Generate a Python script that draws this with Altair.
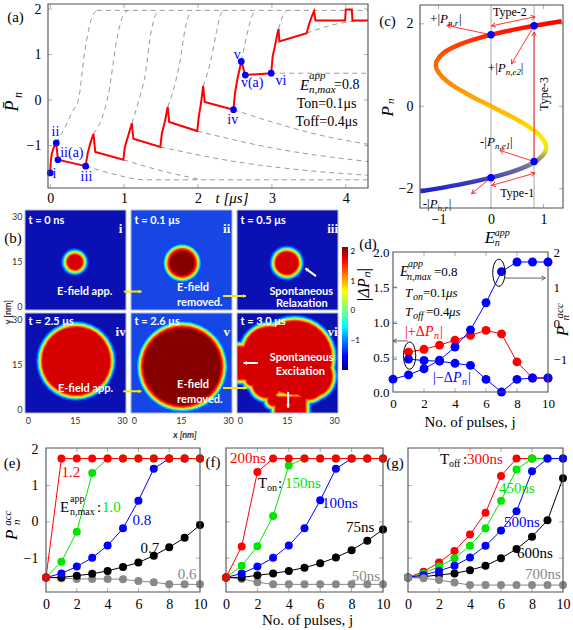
import math
import altair as alt
import pandas as pd

W, H = 573, 630
SERIF = "Liberation Serif"
SANS = "Lato"
FRAME = "#505050"
RED, BLUE, GREEN, GRAY, BLACK = "#ff0000", "#0000ff", "#00e600", "#888888", "#000000"

# ---------------- (a) polarization trace under the pulse train ----------------
a_t = [0.0, 0.005, 0.02, 0.05, 0.082, 0.104, 0.48,
       0.505, 0.54, 0.57, 0.585, 0.61, 0.99,
       1.01, 1.05, 1.09, 1.105, 1.125, 1.49,
       1.51, 1.55, 1.59, 1.61, 1.99,
       2.01, 2.04, 2.07, 2.09, 2.48,
       2.50, 2.53, 2.56, 2.585, 2.64, 2.99,
       3.01, 3.04, 3.075, 3.09, 3.10, 3.47,
       3.50, 3.54, 3.57, 3.59, 3.99,
       4.00, 4.08, 4.09, 4.30]
a_p = [-1.60, -1.40, -1.18, -1.03, -0.94, -1.31, -1.45,
       -1.18, -0.96, -0.81, -0.74, -1.14, -1.31,
       -1.03, -0.81, -0.59, -0.51, -0.85, -1.03,
       -0.74, -0.48, -0.15, -0.48, -0.68,
       -0.37, -0.07, 0.31, -0.04, -0.21,
       0.15, 0.44, 0.66, 0.85, 0.55, 0.59,
       0.96, 1.18, 1.47, 1.56, 1.29, 1.47,
       1.65, 1.84, 1.95, 1.75, 1.75,
       1.99, 1.99, 1.75, 1.75]
a_state = ["i", "ii", "ii(a)", "iii", "iv", "v", "v(a)", "vi"]
a_state_t = [0.0, 0.082, 0.104, 0.48, 2.48, 2.585, 2.64, 2.99]
a_state_p = [-1.60, -0.94, -1.31, -1.45, -0.21, 0.85, 0.55, 0.59]
# field left on after each pulse
a_rise = [
    [(0.082, -0.94), (0.2, -0.6), (0.3, -0.25), (0.38, 0.0), (0.47, 1.1), (0.56, 1.8), (0.63, 1.97)],
    [(0.585, -0.74), (0.7, -0.4), (0.79, 0.15), (0.9, 1.32), (0.99, 1.87), (1.06, 1.97)],
    [(1.105, -0.51), (1.2, 0.0), (1.28, 0.51), (1.37, 1.54), (1.42, 1.85), (1.47, 1.97)],
    [(1.59, -0.15), (1.68, 0.3), (1.75, 0.8), (1.83, 1.6), (1.88, 1.88), (1.92, 1.97)],
    [(2.07, 0.31), (2.17, 0.85), (2.25, 1.5), (2.3, 1.85), (2.35, 1.97)],
    [(2.585, 0.85), (2.65, 1.35), (2.72, 1.8), (2.77, 1.97)],
    [(3.09, 1.56), (3.15, 1.85), (3.2, 1.97)],
    [(0.63, 1.97), (4.3, 1.97)],
]
# field left off after each pulse
a_relax = [
    [(0.48, -1.45), (0.8, -1.6), (1.3, -1.75), (4.3, -1.75)],
    [(0.99, -1.31), (1.5, -1.55), (2.05, -1.75)],
    [(1.49, -1.03), (2.5, -1.35), (3.5, -1.55), (4.3, -1.65)],
    [(1.99, -0.68), (3.0, -1.05), (4.3, -1.35)],
    [(2.48, -0.21), (3.0, -0.48), (3.6, -0.75), (4.3, -0.97)],
    [(2.99, 0.59), (4.3, 0.59)],
    [(3.47, 1.47), (3.9, 1.68), (4.3, 1.75)],
]

# ---------------- (c) S-shaped P-E branch ----------------
c_p = [-2.06, -1.9, -1.7, -1.5, -1.3, -1.1, -1.0, -0.9, -0.7, -0.5, -0.25, 0.0,
       0.25, 0.5, 0.7, 0.9, 1.0, 1.1, 1.3, 1.5, 1.7, 1.9, 2.06]
c_e = [-1.345, -0.609, 0.098, 0.591, 0.894, 1.034, 1.05, 1.035, 0.922, 0.722, 0.386, 0.0,
       -0.386, -0.722, -0.922, -1.035, -1.05, -1.034, -0.894, -0.591, -0.098, 0.609, 1.345]
c_state_e = [0.0, 0.82, 0.0, 0.82]
c_state_p = [1.732, 1.95, -1.732, -1.34]

# ---------------- (d) per-pulse changes and accumulated polarization ----------------
d_j = list(range(11))
d_acc = [-1.56, -1.44, -1.27, -1.03, -0.66, -0.18, 0.58, 1.45, 1.72, 1.72, 1.72]
d_jd = list(range(1, 11))
d_plus = [0.57, 0.61, 0.67, 0.74, 0.81, 0.88, 0.83, 0.43, 0.20, 0.20]
d_minus = [0.47, 0.45, 0.44, 0.41, 0.38, 0.18, 0.0, 0.18, 0.20, 0.20]

# ---------------- (e) amplitude sweep ----------------
e_12 = [-1.53, 1.74, 1.74, 1.74, 1.74, 1.74, 1.74, 1.74, 1.74, 1.74, 1.74]
e_10 = [-1.53, -1.10, -0.27, 1.34, 1.74, 1.74, 1.74, 1.74, 1.74, 1.74, 1.74]
e_08 = [-1.53, -1.42, -1.23, -0.99, -0.65, -0.18, 0.58, 1.46, 1.74, 1.74, 1.74]
e_07 = [-1.53, -1.53, -1.48, -1.43, -1.35, -1.24, -1.12, -0.93, -0.70, -0.44, -0.09]
e_06 = [-1.53, -1.55, -1.57, -1.57, -1.57, -1.58, -1.63, -1.66, -1.72, -1.72, -1.72]
# ---------------- (f) on-time sweep ----------------
f_200 = [-1.53, -0.68, 1.37, 1.74, 1.74, 1.74, 1.74, 1.74, 1.74, 1.74, 1.74]
f_150 = [-1.53, -1.21, -0.67, 0.16, 1.55, 1.74, 1.74, 1.74, 1.74, 1.74, 1.74]
f_100 = [-1.53, -1.42, -1.23, -0.99, -0.65, -0.18, 0.59, 1.46, 1.74, 1.74, 1.74]
f_75 = [-1.53, -1.53, -1.47, -1.42, -1.35, -1.26, -1.14, -0.98, -0.78, -0.52, -0.21]
f_50 = [-1.53, -1.57, -1.66, -1.72, -1.72, -1.72, -1.72, -1.72, -1.72, -1.72, -1.72]
# ---------------- (g) off-time sweep ----------------
g_300 = [-1.53, -1.37, -1.12, -0.80, -0.35, 0.25, 1.26, 1.74, 1.74, 1.74, 1.74]
g_450 = [-1.53, -1.42, -1.23, -1.00, -0.66, -0.18, 0.58, 1.44, 1.74, 1.74, 1.74]
g_500 = [-1.53, -1.46, -1.35, -1.21, -0.98, -0.66, -0.24, 0.29, 1.39, 1.74, 1.74]
g_600 = [-1.53, -1.51, -1.46, -1.42, -1.33, -1.21, -1.00, -0.75, -0.41, 0.04, 1.20]
g_700 = [-1.53, -1.55, -1.60, -1.67, -1.74, -1.74, -1.74, -1.74, -1.74, -1.74, -1.74]

# ---------------- (b) domain snapshots (nm) ----------------
img_time = ["t = 0 ns", "t = 0.1 μs", "t = 0.5 μs", "t = 2.5 μs", "t = 2.6 μs", "t = 3.0 μs"]
img_tag = ["i", "ii", "iii", "iv", "v", "vi"]
img_field_on = [False, True, False, False, True, False]
img_cx = [15.0, 15.4, 15.0, 15.4, 15.4]
img_cy = [14.8, 14.5, 14.5, 16.2, 14.3]
img_r = [3.5, 5.5, 4.7, 12.1, 14.1]
vi_cx = [17.5, 9.5, 8.6, 22.0, 23.0, 4.0, 10.7]
vi_cy = [17.3, 19.0, 8.6, 8.0, 11.0, 10.0, 3.0]
vi_r = [13.0, 9.4, 5.6, 5.5, 7.5, 3.0, 2.7]
vi_rects = [(-0.9, 9.0, 9.0, 22.0), (10.4, -1.3, 21.9, 5.0)]

# =====================================================================
OPEN_HEAD = "M -0.55 1 L 0 0 L 0.55 1"
SOLID_HEAD = "M 0 0 L 0.6 1 L -0.6 1 Z"
ELLIPSE = "M " + " L ".join(
    "%.3f %.3f" % (0.45 * math.cos(2 * math.pi * k / 28), math.sin(2 * math.pi * k / 28)) for k in range(28)
) + " Z"


class Panel:
    """One sub-plot: its own scales mapped straight onto a pixel box of the page."""

    def __init__(self, xdom, xrng, ydom, yrng, xvals=None, yvals=None, yorient="left", font=SERIF,
                 size=14, xpad=4, ypad=6, label_color="black"):
        self.xdom, self.xrng, self.ydom, self.yrng = xdom, xrng, ydom, yrng
        self.xs = alt.Scale(domain=list(xdom), range=list(xrng), nice=False, zero=False)
        self.ys = alt.Scale(domain=list(ydom), range=list(yrng), nice=False, zero=False)
        self.kx = (xrng[1] - xrng[0]) / (xdom[1] - xdom[0])
        self.ky = (yrng[0] - yrng[1]) / (ydom[1] - ydom[0])
        self.layers = []
        common = dict(labelFont=font, labelFontSize=size, labelColor=label_color, ticks=False,
                      tickSize=0, domain=False, grid=False, labelFlush=False, labelOverlap=False)
        self.xax = None
        self.yax = None
        if xvals is not None:
            self.xax = alt.Axis(orient="bottom", offset=yrng[0] - H, values=xvals,
                                labelPadding=xpad, **common)
        if yvals is not None:
            off = -xrng[0] if yorient == "left" else xrng[1] - W
            self.yax = alt.Axis(orient=yorient, offset=off, values=yvals, labelPadding=ypad, **common)

    def enc(self):
        return dict(x=alt.X("x:Q", scale=self.xs, axis=self.xax, title=None),
                    y=alt.Y("y:Q", scale=self.ys, axis=self.yax, title=None))

    def _box(self):
        return pd.DataFrame({"x": [self.xdom[0]], "x2": [self.xdom[1]],
                             "y": [self.ydom[0]], "y2": [self.ydom[1]]})

    def border(self, stroke=FRAME, width=1.1):
        mk = alt.Chart(self._box()).mark_rect(filled=False, stroke=stroke, strokeWidth=width)
        self.layers.append(mk.encode(**self.enc(), x2=alt.X2("x2"), y2=alt.Y2("y2")))

    def ticks(self, xvals=(), yvals=(), length=4, both_x=True, both_y=True, color=FRAME):
        lx = length / self.ky
        ly = length / self.kx
        for v in xvals:
            self.seg(v, self.ydom[0], v, self.ydom[0] + lx, color, 0.8)
            if both_x:
                self.seg(v, self.ydom[1], v, self.ydom[1] - lx, color, 0.8)
        for v in yvals:
            self.seg(self.xdom[0], v, self.xdom[0] + ly, v, color, 0.8)
            if both_y:
                self.seg(self.xdom[1], v, self.xdom[1] - ly, v, color, 0.8)

    def line(self, xs, ys, color, width=1.0, dash=None, interp=None, stroke=None):
        df = pd.DataFrame({"x": xs, "y": ys, "i": list(range(len(xs)))})
        kw = dict(strokeWidth=width)
        if stroke is not None:
            kw["stroke"] = stroke
        else:
            kw["color"] = color
        if dash:
            kw["strokeDash"] = dash
        if interp:
            kw["interpolate"] = interp
        self.layers.append(alt.Chart(df).mark_line(**kw).encode(**self.enc(), order=alt.Order("i:Q")))

    def dots(self, xs, ys, color, size=60):
        df = pd.DataFrame({"x": xs, "y": ys})
        self.layers.append(alt.Chart(df).mark_circle(size=size, color=color, opacity=1).encode(**self.enc()))

    def series(self, xs, ys, color, size=60, width=1.0):
        self.line(xs, ys, color, width)
        self.dots(xs, ys, color, size)

    def rects(self, boxes, color, **kw):
        df = pd.DataFrame({"x": [b[0] for b in boxes], "y": [b[1] for b in boxes],
                           "x2": [b[2] for b in boxes], "y2": [b[3] for b in boxes]})
        self.layers.append(alt.Chart(df).mark_rect(color=color, opacity=1, **kw)
                           .encode(**self.enc(), x2=alt.X2("x2"), y2=alt.Y2("y2")))

    def discs(self, xs, ys, diam_px, color):
        df = pd.DataFrame({"x": xs, "y": ys, "s": [d * d for d in diam_px]})
        self.layers.append(alt.Chart(df).mark_point(shape="circle", filled=True, opacity=1, color=color,
                                                    strokeWidth=0)
                           .encode(**self.enc(), size=alt.Size("s:Q", scale=None)))

    def text(self, x, y, s, size=14, color="black", font=SERIF, style=None, weight=None,
             align="center", baseline="middle", angle=None, dx=0, dy=0):
        df = pd.DataFrame({"x": [x], "y": [y], "t": [s]})
        kw = dict(fontSize=size, color=color, font=font, align=align, baseline=baseline)
        if dx:
            kw["dx"] = dx
        if dy:
            kw["dy"] = dy
        if style:
            kw["fontStyle"] = style
        if weight:
            kw["fontWeight"] = weight
        if angle is not None:
            kw["angle"] = angle
        self.layers.append(alt.Chart(df).mark_text(**kw).encode(**self.enc(), text="t:N"))

    def mtext(self, x, y, parts, color="black", font=SERIF):
        # parts: (text, dx, dy, size, style)
        for s, dx, dy, size, style in parts:
            self.text(x, y, s, size=size, color=color, font=font, style=style, align="left", dx=dx, dy=dy)

    def seg(self, x1, y1, x2, y2, color, width=1.0, dash=None):
        df = pd.DataFrame({"x": [x1], "y": [y1], "x2": [x2], "y2": [y2]})
        kw = dict(color=color, strokeWidth=width)
        if dash:
            kw["strokeDash"] = dash
        self.layers.append(alt.Chart(df).mark_rule(**kw)
                           .encode(**self.enc(), x2=alt.X2("x2"), y2=alt.Y2("y2")))

    def head(self, x, y, fx, fy, color, size=90, width=1.0, solid=False):
        dxp = (x - fx) * self.kx
        dyp = -(y - fy) * self.ky
        ang = math.degrees(math.atan2(dxp, -dyp)) % 360
        df = pd.DataFrame({"x": [x], "y": [y]})
        mk = alt.Chart(df).mark_point(shape=SOLID_HEAD if solid else OPEN_HEAD, filled=solid,
                                      color=color, strokeWidth=width, size=size, angle=ang, opacity=1)
        self.layers.append(mk.encode(**self.enc()))

    def arrow(self, x1, y1, x2, y2, color, width=1.0, size=90, both=False, solid=False):
        self.seg(x1, y1, x2, y2, color, width)
        self.head(x2, y2, x1, y1, color, size, width, solid)
        if both:
            self.head(x1, y1, x2, y2, color, size, width, solid)

    def ellipse(self, x, y, size):
        df = pd.DataFrame({"x": [x], "y": [y]})
        self.layers.append(alt.Chart(df).mark_point(shape=ELLIPSE, filled=False, color="black",
                                                    strokeWidth=1, size=size, opacity=1)
                           .encode(**self.enc()))

    def chart(self):
        return alt.layer(*self.layers)


panels = []

# ---------------- (b) snapshots ----------------
IMG_X = [(25, 126), (131, 232), (237, 338)]
IMG_Y = [(310, 210), (413, 313)]
NMX, NMY = (-0.9, 31.3), (-1.3, 32.3)
K_NM = 3.06
LV = [(1.0, "#0048ff"), (0.6, "#00b8ff"), (0.2, "#86ff7a"), (-0.2, "#ffd400"), (-0.6, "#ff4a00")]
BG_OFF, BG_ON = "#0a10b2", "#1646e6"
CORE_OFF, CORE_ON = "#d60000", "#860000"


def levels(on):
    if on:
        return LV + [(-1.0, "#e60000"), (-1.5, CORE_ON)]
    return LV + [(-1.0, CORE_OFF)]


def grow(box, off):
    x1, y1, x2, y2 = box
    return (x1 if x1 <= NMX[0] else x1 - off, y1 if y1 <= NMY[0] else y1 - off,
            x2 if x2 >= NMX[1] else x2 + off, y2 if y2 >= NMY[1] else y2 + off)


def snapshot(k, cxs, cys, rs, boxes=()):
    col, row = k % 3, k // 3
    p = Panel(NMX, IMG_X[col], NMY, IMG_Y[row],
              xvals=[0, 15, 30] if row == 1 else None, yvals=[0, 15, 30] if col == 0 else None,
              font=SANS, size=9, xpad=3, ypad=3, label_color="#333333")
    on = img_field_on[k]
    p.rects([(NMX[0], NMY[0], NMX[1], NMY[1])], BG_ON if on else BG_OFF)
    for off, colr in levels(on):
        if boxes:
            p.rects([grow(b, off) for b in boxes], colr)
        p.discs(cxs, cys, [2 * (r + off) * K_NM for r in rs], colr)
    p.border("#b4bcd6", 1)
    return p


for k in range(5):
    panels.append(snapshot(k, [img_cx[k]], [img_cy[k]], [img_r[k]]))
panels.append(snapshot(5, vi_cx, vi_cy, vi_r, vi_rects))

# annotations over the snapshots
ann = [Panel(NMX, IMG_X[k % 3], NMY, IMG_Y[k // 3]) for k in range(6)]
for k, p in enumerate(ann):
    p.text(0.2, 28.6 if k < 3 else 29.3, img_time[k], size=11, color="white", font=SANS,
           weight="bold", align="left")
    p.text(29.6, 26.0, img_tag[k], size=13, color="white", weight="bold")
YEL = "#f2ea00"
ann[0].text(9.3, 4.7, "E-field app.", size=11, color="white", font=SANS, weight="bold", align="left")
ann[0].arrow(30.6, 4.9, 36.3, 4.9, YEL, width=2, size=40, solid=True)
ann[1].text(13.8, 6.1, "E-field", size=11, color="white", font=SANS, weight="bold", align="left")
ann[1].text(13.8, 0.9, "removed.", size=11, color="white", font=SANS, weight="bold", align="left")
ann[1].arrow(28.4, 3.4, 35.8, 3.4, YEL, width=2, size=40, solid=True)
ann[2].text(19.6, 4.8, "Spontaneous", size=11, color="white", font=SANS, weight="bold")
ann[2].text(19.8, 0.8, "Relaxation", size=11, color="white", font=SANS, weight="bold")
ann[2].arrow(24.3, 10.1, 20.9, 12.7, "white", width=2, size=40, solid=True)
ann[3].text(9.6, 6.7, "E-field app.", size=11, color="white", font=SANS, weight="bold", align="left")
ann[3].arrow(30.4, 6.0, 36.2, 6.0, YEL, width=2, size=40, solid=True)
ann[4].text(13.8, 8.1, "E-field", size=11, color="white", font=SANS, weight="bold", align="left")
ann[4].text(13.8, 3.0, "removed.", size=11, color="white", font=SANS, weight="bold", align="left")
ann[4].arrow(28.4, 7.1, 36.0, 7.1, YEL, width=2, size=40, solid=True)
ann[5].text(19.7, 17.2, "Spontaneous", size=11, color="white", font=SANS, weight="bold")
ann[5].text(19.3, 12.5, "Excitation", size=11, color="white", font=SANS, weight="bold")
ann[5].arrow(5.8, 15.5, 1.2, 15.5, "white", width=2, size=40, solid=True)
ann[5].arrow(15.4, 5.8, 15.4, 0.5, "white", width=2, size=40, solid=True)
ann[0].text(-4.7, 22.9, "(b)", size=15)
ann[3].text(-6.3, 32.6, "y [nm]", size=9, font=SANS, weight="bold", color="#333333", angle=270)
ann[4].text(16.3, -8.7, "x [nm]", size=9, font=SANS, weight="bold", style="italic", color="#333333")
panels += ann

# colour bar
cb = Panel((0, 1), (342, 348), (-2.02, 2.17), (370, 247), yvals=[-1, 0, 1, 2], yorient="right",
           font=SANS, size=8, ypad=2)
jet = alt.Gradient(gradient="linear", x1=0, x2=0, y1=1, y2=0, stops=[
    alt.GradientStop(offset=0.0, color="#00008a"), alt.GradientStop(offset=0.11, color="#0000ff"),
    alt.GradientStop(offset=0.36, color="#00ffff"), alt.GradientStop(offset=0.5, color="#80ff80"),
    alt.GradientStop(offset=0.64, color="#ffff00"), alt.GradientStop(offset=0.89, color="#ff0000"),
    alt.GradientStop(offset=1.0, color="#800000")])
cb.layers.append(alt.Chart(cb._box()).mark_rect(color=jet).encode(**cb.enc(), x2=alt.X2("x2"), y2=alt.Y2("y2")))
panels.append(cb)

# ---------------- (a) ----------------
pa = Panel((-0.03, 4.3), (48, 368), (-1.93, 2.11), (188, 4),
           xvals=[0, 1, 2, 3, 4], yvals=[-1, 0, 1, 2], xpad=3, ypad=7)
for g in a_rise + a_relax:
    pa.line([q[0] for q in g], [q[1] for q in g], "#9a9a9a", 1.0, dash=[5, 4], interp="monotone")
pa.line(a_t, a_p, RED, 2.0)
pa.dots(a_state_t, a_state_p, BLUE, 45)
lab = {"i": (0.03, -1.62, "left"), "ii": (0.07, -0.70, "center"), "ii(a)": (0.135, -1.16, "left"),
       "iii": (0.49, -1.69, "center"), "iv": (2.47, -0.44, "center"), "v": (2.53, 0.99, "center"),
       "v(a)": (2.58, 0.37, "left"), "vi": (3.05, 0.42, "left")}
for s in a_state:
    x, y, al = lab[s]
    pa.text(x, y, s, size=14, color=BLUE, align=al)
pa.mtext(3.38, 0.33, [("E", 0, 0, 15, "italic"), ("app", 9, -9, 11, "italic"),
                      ("n,max", 9, 5, 11, "italic"), ("=0.8", 34, 0, 14, None)])
pa.text(3.74, -0.09, "Ton=0.1μs", size=14)
pa.text(3.74, -0.48, "Toff=0.4μs", size=14)
pa.text(2.46, -2.15, "t [μs]", size=15, style="italic")
pa.text(-0.47, 1.82, "(a)", size=15)
pa.text(-0.51, -0.13, "P\u0304", size=18, style="italic", angle=270)
pa.text(-0.43, 0.11, "n", size=12, style="italic", angle=270)
pa.ticks([0, 1, 2, 3, 4], [-1, 0, 1, 2], color="#999999")
pa.border()
panels.append(pa)

# ---------------- (c) ----------------
pc = Panel((-1.352, 1.371), (420, 563), (-2.467, 2.455), (208, 5),
           xvals=[-1, 0, 1], yvals=[-2, 0, 2], xpad=4, ypad=7)
for e in (0.0, 0.82):
    pc.seg(e, -2.467, e, 2.455, "#a8a8a8", 1.0)
pc.ticks([-1, 1], [-2, 0, 2], color="#999999")
grad = alt.Gradient(gradient="linear", x1=0, x2=0, y1=1, y2=0, stops=[
    alt.GradientStop(offset=0.0, color="#2020d0"), alt.GradientStop(offset=0.075, color="#4444b8"),
    alt.GradientStop(offset=0.136, color="#6c6ca4"), alt.GradientStop(offset=0.197, color="#9c9c7c"),
    alt.GradientStop(offset=0.245, color="#e4e41c"), alt.GradientStop(offset=0.306, color="#ffec00"),
    alt.GradientStop(offset=0.427, color="#ffc800"), alt.GradientStop(offset=0.573, color="#ffa000"),
    alt.GradientStop(offset=0.718, color="#ff7200"), alt.GradientStop(offset=0.864, color="#ff3c00"),
    alt.GradientStop(offset=1.0, color="#ff0000")])
pc.line(c_e, c_p, None, 4.5, interp="catmull-rom", stroke=grad)
CR = "#ff2020"
pc.arrow(0.0, 1.732, -0.84, 1.96, CR, 0.9, 70)
pc.arrow(0.01, 1.95, 0.84, 2.17, CR, 0.9, 70, both=True)
pc.arrow(0.82, 1.95, 0.39, 1.03, CR, 0.9, 70)
pc.arrow(0.82, -1.34, 0.82, 1.8, CR, 0.9, 70)
pc.arrow(0.82, -1.34, 0.17, -1.07, CR, 0.9, 70)
pc.arrow(0.01, -1.92, 0.84, -1.62, CR, 0.9, 70, both=True)
pc.arrow(0.0, -1.732, -0.37, -2.12, CR, 0.9, 70)
pc.dots(c_state_e, c_state_p, BLUE, 55)
pc.text(0.36, 2.29, "Type-2", size=12)
pc.text(0.5, -2.1, "Type-1", size=12)
pc.text(1.01, 0.3, "Type-3", size=12, angle=270)
pc.mtext(-1.16, 2.12, [("+|", 0, 0, 13, None), ("P", 10, 0, 13, "italic"), ("n,r", 18, 4, 9, "italic"),
                       ("|", 29, 0, 13, None)])
pc.mtext(-0.06, 0.93, [("+|", 0, 0, 13, None), ("P", 10, 0, 13, "italic"), ("n,e2", 18, 4, 9, "italic"),
                       ("|", 33, 0, 13, None)])
pc.mtext(-0.21, -0.87, [("-|", 0, 0, 13, None), ("P", 7, 0, 13, "italic"), ("n,e1", 15, 4, 9, "italic"),
                        ("|", 30, 0, 13, None)])
pc.mtext(-1.3, -2.37, [("-|", 0, 0, 13, None), ("P", 7, 0, 13, "italic"), ("n,r", 15, 4, 9, "italic"),
                       ("|", 26, 0, 13, None)])
pc.text(-1.97, 2.06, "(c)", size=15)
pc.text(-1.96, -0.12, "P", size=17, style="italic", angle=270)
pc.text(-1.90, 0.12, "n", size=11, style="italic", angle=270)
pc.mtext(-0.12, -3.2, [("E", 0, 0, 17, "italic"), ("app", 10, -5, 10, "italic"), ("n", 10, 5, 10, "italic")])
pc.border()
panels.append(pc)

# ---------------- (d) ----------------
pdl = Panel((0, 10), (393, 548), (0, 2), (392, 252),
            xvals=[0, 2, 4, 6, 8, 10], yvals=[0, 0.5, 1, 1.5, 2], size=13, xpad=5, ypad=4)
pdl.ticks([2, 4, 6, 8], [0.5, 1, 1.5], both_y=False, color="#999999")
pdl.series(d_jd, d_plus, RED, 80)
pdl.series(d_jd, d_minus, BLUE, 80)
pdl.ellipse(1.07, 0.52, 740)
pdl.arrow(0.95, 0.73, 0.0, 0.73, "#505050", 0.9, 60)
pdl.mtext(0.45, 1.71, [("E", 0, 0, 14, "italic"), ("app", 8, -8, 10, "italic"),
                       ("n,max", 7, 5, 10, "italic"), ("=0.8", 34, 0, 13, None)])
pdl.mtext(0.77, 1.41, [("T", 0, 0, 13, "italic"), ("on", 8, 4, 10, "italic"), ("=0.1", 18, 0, 13, None),
                       ("μs", 41, 0, 13, "italic")])
pdl.mtext(0.77, 1.14, [("T", 0, 0, 13, "italic"), ("off", 8, 4, 10, "italic"), ("=0.4", 21, 0, 13, None),
                       ("μs", 44, 0, 13, "italic")])
pdl.mtext(0.77, 0.86, [("|+Δ", 0, 0, 14, None), ("P", 20, 0, 14, "italic"), ("n", 29, 4, 10, "italic"),
                       ("|", 35, 0, 14, None)], color=RED)
pdl.mtext(2.58, 0.2, [("|−Δ", 0, 0, 14, None), ("P", 20, 0, 14, "italic"), ("n", 29, 4, 10, "italic"),
                      ("|", 35, 0, 14, None)], color=BLUE)
pdl.text(-1.62, 2.12, "(d)", size=15)
pdl.text(-1.85, 1.53, "|ΔP\u2099|", size=16, style="italic", angle=270)
pdl.text(10.97, 0.87, "P", size=17, style="italic", angle=270)
pdl.text(10.77, 1.16, "acc", size=11, style="italic", angle=270)
pdl.text(11.16, 1.06, "n", size=11, style="italic", angle=270)
pdl.text(4.97, -0.43, "No.  of pulses, j", size=15)
pdl.border()
panels.append(pdl)

pdr = Panel((0, 10), (393, 548), (-1.92, 2.0), (392, 252), yvals=[-1, 0, 1, 2], yorient="right",
            size=13, ypad=5)
pdr.ticks(yvals=[-1, 0, 1], both_y=False)
pdr.series(d_j, d_acc, BLUE, 80)
pdr.ellipse(6.83, 1.42, 740)
pdr.arrow(7.2, 1.27, 9.83, 1.27, "#505050", 0.9, 60)
panels.append(pdr)

# ---------------- (e) (f) (g) ----------------
PY = (-1.93, 2.03)
pe = Panel((0, 10), (46, 200), PY, (592, 448), xvals=[0, 2, 4, 6, 8, 10], yvals=[-1, 0, 1, 2],
           xpad=5, ypad=8)
pe.ticks([2, 4, 6, 8], [-1, 0, 1], color="#999999")
for ys, c in ((e_06, GRAY), (e_07, BLACK), (e_08, BLUE), (e_10, GREEN), (e_12, RED)):
    pe.series(d_j, ys, c, 64)
pe.text(1.62, 1.37, "1.2", size=15, color=RED)
pe.mtext(0.91, 0.41, [("E", 0, 0, 15, None), ("app", 10, -8, 10, None), ("n,max", 10, 5, 10, None),
                      (":", 37, 0, 15, None)])
pe.text(3.64, 0.41, "1.0", size=15, color=GREEN, align="left")
pe.text(6.23, 0.05, "0.8", size=15, color=BLUE)
pe.text(6.75, -0.72, "0.7", size=15)
pe.text(9.16, -1.44, "0.6", size=15, color=GRAY)
pe.text(-2.2, 1.61, "(e)", size=15)
pe.text(-2.21, -0.36, "P", size=17, style="italic", angle=270)
pe.text(-2.47, 0.10, "acc", size=11, style="italic", angle=270)
pe.text(-1.88, -0.01, "n", size=11, style="italic", angle=270)
pe.border()
panels.append(pe)

pf = Panel((0, 10), (226, 383), PY, (592, 448), xvals=[0, 2, 4, 6, 8, 10], xpad=5)
pf.ticks([2, 4, 6, 8], [-1, 0, 1], color="#999999")
for ys, c in ((f_50, GRAY), (f_75, BLACK), (f_100, BLUE), (f_150, GREEN), (f_200, RED)):
    pf.series(d_j, ys, c, 64)
pf.text(1.4, 1.75, "200ns", size=15, color=RED)
pf.mtext(2.04, 1.07, [("T", 0, 0, 15, None), ("on", 9, 5, 10, None), (":", 20, 0, 15, None)])
pf.text(3.76, 1.07, "150ns", size=15, color=GREEN, align="left")
pf.text(6.11, 0.52, "100ns", size=15, color=BLUE, align="left")
pf.text(8.54, -0.14, "75ns", size=15)
pf.text(8.92, -1.49, "50ns", size=15, color=GRAY)
pf.text(-0.83, 1.64, "(f)", size=15)
pf.text(5.2, -2.7, "No.  of pulses, j", size=15)
pf.border()
panels.append(pf)

pg = Panel((0, 10), (408, 563), PY, (592, 448), xvals=[0, 2, 4, 6, 8, 10], xpad=5)
pg.ticks([2, 4, 6, 8], [-1, 0, 1], color="#999999")
for ys, c in ((g_600, BLACK), (g_300, RED), (g_450, GREEN), (g_500, BLUE), (g_700, GRAY)):
    pg.series(d_j, ys, c, 64)
pg.mtext(2.06, 1.73, [("T", 0, 0, 15, None), ("off", 9, 5, 10, None), (":", 23, 0, 15, None)])
pg.text(3.81, 1.73, "300ns", size=15, color=RED, align="left")
pg.text(7.03, 0.93, "450ns", size=15, color=GREEN)
pg.text(7.35, 0.0, "500ns", size=15, color=BLUE)
pg.text(8.19, -0.86, "600ns", size=15)
pg.text(8.71, -1.44, "700ns", size=15, color=GRAY)
pg.text(-0.84, 1.62, "(g)", size=15)
pg.border()
panels.append(pg)

chart = (
    alt.layer(*[p.chart() for p in panels])
    .resolve_scale(x="independent", y="independent")
    .properties(width=W, height=H, autosize="none", padding=0)
    .configure_view(strokeWidth=0)
)
chart.save("out.html", embed_options={"renderer": "svg", "actions": False})
